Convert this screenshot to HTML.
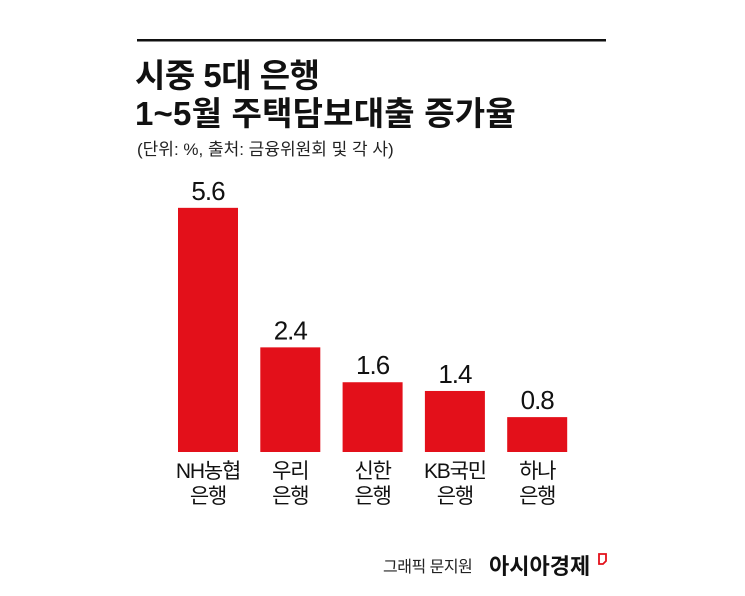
<!DOCTYPE html>
<html><head><meta charset="utf-8"><style>
body{margin:0;background:#fff;width:745px;height:596px;overflow:hidden;font-family:"Liberation Sans","Noto Sans CJK KR",sans-serif}
svg{display:block}
</style></head><body>
<svg width="745" height="596">
<rect x="137" y="39" width="469" height="2.5" fill="#111"/>
<text x="135" y="87" font-size="33" font-weight="bold" fill="#111" letter-spacing="-0.5">시중 5대 은행</text>
<text x="135" y="125" font-size="33" font-weight="bold" fill="#111" letter-spacing="0.2">1~5월 주택담보대출 증가율</text>
<text x="137" y="155" font-size="17" fill="#222" letter-spacing="0">(단위: %, 출처: 금융위원회 및 각 사)</text>
<g id="bars"></g>
<text x="383" y="572" font-size="16" fill="#222" letter-spacing="-0.5">그래픽 문지원</text>
<text x="489" y="574" font-size="22" font-weight="bold" fill="#111" letter-spacing="0">아시아경제</text>
<path d="M599 554 h7 v7 l-3 3 h-4 z" fill="none" stroke="#e3101a" stroke-width="1.8"/>
</svg>
<script>
const categories=[["NH농협","은행"],["우리","은행"],["신한","은행"],["KB국민","은행"],["하나","은행"]];
const values=[5.6,2.4,1.6,1.4,0.8];
const valueLabels=["5.6","2.4","1.6","1.4","0.8"];
const baseY=452, pxPerUnit=43.6, x0=178, step=82.3, bw=60;
const y=v=>baseY-v*pxPerUnit;
const xs=i=>x0+i*step;
const g=document.getElementById('bars');
const NS='http://www.w3.org/2000/svg';
values.forEach((v,i)=>{
  const r=document.createElementNS(NS,'rect');
  r.setAttribute('x',xs(i));r.setAttribute('y',y(v));r.setAttribute('width',bw);r.setAttribute('height',baseY-y(v));r.setAttribute('fill','#e3101a');
  
  
  g.appendChild(r);
  const t=document.createElementNS(NS,'text');
  t.setAttribute('x',xs(i)+bw/2);t.setAttribute('y',y(v)-8);t.setAttribute('text-anchor','middle');t.setAttribute('font-size','26');t.setAttribute('fill','#111');t.setAttribute('letter-spacing','-1');
  t.textContent=valueLabels[i];
  
  
  g.appendChild(t);
  categories[i].forEach((s,j)=>{
    const c=document.createElementNS(NS,'text');
    c.setAttribute('x',xs(i)+bw/2);c.setAttribute('y',478+j*25);c.setAttribute('text-anchor','middle');c.setAttribute('font-size','21');c.setAttribute('fill','#111');c.setAttribute('letter-spacing','-1.2');
    c.textContent=s;
    
    
    g.appendChild(c);
  });
});
</script>
</body></html>
